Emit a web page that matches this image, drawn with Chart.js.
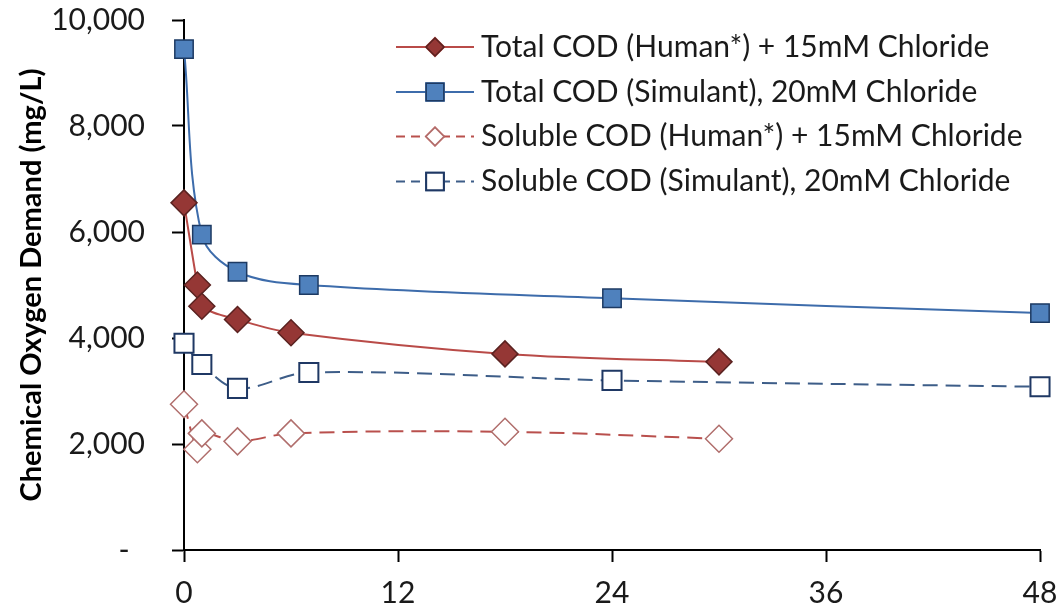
<!DOCTYPE html>
<html>
<head>
<meta charset="utf-8">
<script src="https://cdn.jsdelivr.net/npm/chart.js@4/dist/chart.umd.min.js"></script>
<style>
  html, body { margin: 0; padding: 0; background: #fff; }
  #wrap { width: 1058px; height: 608px; position: relative; }
</style>
</head>
<body>
<div id="wrap"><canvas id="myChart" width="1058" height="608"></canvas></div>
<script>
// hours of treatment
const humanHours = [0, 0.75, 1, 3, 6, 18, 30];
const simHours = [0, 1, 3, 7, 24, 48];

// COD, mg/L
const humanTotal = [6550, 5000, 4600, 4350, 4100, 3700, 3550];
const simTotal = [9450, 5950, 5250, 5000, 4750, 4470];
const humanSoluble = [2750, 1900, 2200, 2050, 2200, 2230, 2100];
const simSoluble = [3900, 3500, 3050, 3350, 3200, 3080];

const seriesLabels = [
    'Total COD (Human*) + 15mM Chloride',
    'Total COD (Simulant), 20mM Chloride',
    'Soluble COD (Human*) + 15mM Chloride',
    'Soluble COD (Simulant), 20mM Chloride'
];

const xTicks = [0, 12, 24, 36, 48];
const yTicks = [0, 2000, 4000, 6000, 8000, 10000];

const FONT = 'Lato';

function toPoints(xs, ys) {
    return xs.map((x, i) => ({x: x, y: ys[i]}));
}

const datasets = [
    {
        label: seriesLabels[0],
        data: toPoints(humanHours, humanTotal),
        borderColor: '#b94b48',
        borderWidth: 2,
        pointStyle: 'rectRot',
        pointRadius: 13,
        pointBackgroundColor: '#953735',
        pointBorderColor: '#5a2220',
        pointBorderWidth: 1.5,
        legendRadius: 9
    },
    {
        label: seriesLabels[1],
        data: toPoints(simHours, simTotal),
        borderColor: '#3d6cab',
        borderWidth: 2,
        pointStyle: 'rect',
        pointRadius: 13,
        pointBackgroundColor: '#4f81bd',
        pointBorderColor: '#1d3a63',
        pointBorderWidth: 1.5,
        legendRadius: 12.5
    },
    {
        label: seriesLabels[2],
        data: toPoints(humanHours, humanSoluble),
        borderColor: '#b9504d',
        borderWidth: 2,
        borderDash: [15, 8],
        pointStyle: 'rectRot',
        pointRadius: 13.5,
        pointBackgroundColor: '#ffffff',
        pointBorderColor: '#b06e6c',
        pointBorderWidth: 1.5,
        legendRadius: 9
    },
    {
        label: seriesLabels[3],
        data: toPoints(simHours, simSoluble),
        borderColor: '#3d5d88',
        borderWidth: 2,
        borderDash: [15, 8],
        pointStyle: 'rect',
        pointRadius: 13.5,
        pointBackgroundColor: '#ffffff',
        pointBorderColor: '#1f3864',
        pointBorderWidth: 2,
        legendRadius: 12.5
    }
];
datasets.forEach(ds => {
    ds.tension = 0.35;
    ds.fill = false;
    ds.showLine = true;
    ds.clip = false;
    ds.pointHoverRadius = ds.pointRadius;
});

// legend drawn by hand so the line sample, dash and marker look like Excel's
const excelLegend = {
    id: 'excelLegend',
    afterDraw(chart) {
        const ctx = chart.ctx;
        const x0 = 396, x1 = 474, xm = 435, xt = 481;
        const rows = [47, 92, 136.5, 181.5];
        ctx.save();
        chart.data.datasets.forEach((ds, i) => {
            const y = rows[i];
            ctx.beginPath();
            ctx.setLineDash(ds.borderDash ? [9, 6] : []);
            ctx.strokeStyle = ds.borderColor;
            ctx.lineWidth = ds.borderWidth;
            ctx.moveTo(x0, y);
            ctx.lineTo(x1, y);
            ctx.stroke();
            ctx.setLineDash([]);
            Chart.helpers.drawPoint(ctx, {
                pointStyle: ds.pointStyle,
                radius: ds.legendRadius,
                rotation: 0,
                borderWidth: ds.pointBorderWidth
            }, xm, y);
            ctx.fillStyle = ds.pointBackgroundColor;
            ctx.strokeStyle = ds.pointBorderColor;
            ctx.lineWidth = ds.pointBorderWidth;
            ctx.fill();
            ctx.stroke();
            ctx.fillStyle = '#1a1a1a';
            ctx.font = '30px ' + FONT;
            ctx.textAlign = 'left';
            ctx.textBaseline = 'middle';
            ctx.fillText(ds.label, xt, y);
        });
        ctx.restore();
    }
};

function noPad(scale) {
    scale.paddingTop = 0;
    scale.paddingBottom = 0;
    scale.paddingLeft = 0;
    scale.paddingRight = 0;
}

const ctx = document.getElementById('myChart');

const config = {
    type: 'scatter',
    data: {datasets: datasets},
    options: {
        responsive: false,
        animation: false,
        events: [],
        layout: {padding: {left: 0, right: 18, top: 20, bottom: 0}},
        plugins: {
            legend: {display: false},
            tooltip: {enabled: false}
        },
        scales: {
            x: {
                type: 'linear',
                min: 0,
                max: 48,
                afterBuildTicks: (scale) => { scale.ticks = xTicks.map(v => ({value: v})); },
                afterFit: (scale) => { scale.height = 58; noPad(scale); },
                grid: {drawOnChartArea: false, drawTicks: true, tickLength: 12, tickColor: '#000', tickWidth: 2},
                border: {color: '#000', width: 2},
                ticks: {color: '#1a1a1a', padding: 13, font: {family: FONT, size: 30}}
            },
            y: {
                type: 'linear',
                min: 0,
                max: 10000,
                afterBuildTicks: (scale) => { scale.ticks = yTicks.map(v => ({value: v})); },
                afterFit: (scale) => { scale.width = 184; noPad(scale); },
                grid: {drawOnChartArea: false, drawTicks: true, tickLength: 12, tickColor: '#000', tickWidth: 2},
                border: {color: '#000', width: 2},
                ticks: {
                    color: '#1a1a1a',
                    padding: 27,
                    font: {family: FONT, size: 30},
                    callback: (v) => v === 0 ? '-  ' : v.toLocaleString('en-US')
                },
                title: {
                    display: true,
                    text: 'Chemical Oxygen Demand (mg/L)',
                    color: '#000',
                    font: {family: FONT, size: 29, weight: 'bold'},
                    padding: {top: 14, bottom: 0}
                }
            }
        }
    },
    plugins: [excelLegend]
};
var chart = new Chart(ctx, config);
</script>
</body>
</html>
